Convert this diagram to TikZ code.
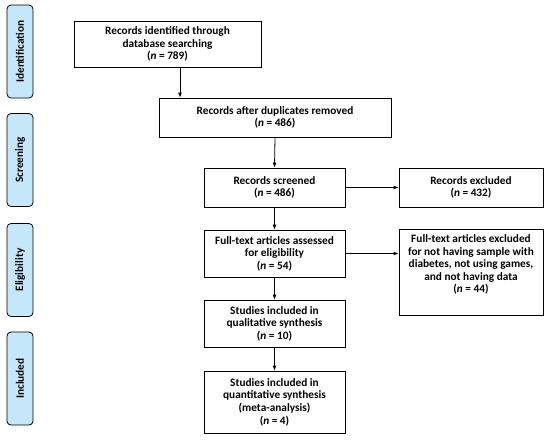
\documentclass[tikz,border=0pt]{standalone}
\usepackage{fontspec}
\setmainfont{Carlito}
\usetikzlibrary{arrows.meta}

\definecolor{phaseblue}{RGB}{197,231,250}

\begin{document}
\begin{tikzpicture}[x=1pt, y=-1pt,
    every node/.style={font=\fontsize{11.3}{12.6}\selectfont\bfseries},
    box/.style={draw, line width=0.8pt, inner sep=0pt, align=center},
    phase/.style={draw, line width=0.8pt, rounded corners=4pt, fill=phaseblue,
        minimum width=26pt, minimum height=93pt, inner sep=0pt,
        font=\fontsize{11.3}{13}\selectfont\bfseries},
    arr/.style={-{Latex[length=5pt, width=4pt]}, line width=0.8pt}]

    \useasboundingbox (0,0) rectangle (550,440);

    % Phase labels
    \node[phase] (ident) at (20,51.5) {\rotatebox{90}{Identification}};
    \node[phase] (screen) at (20,160) {\rotatebox{90}{Screening}};
    \node[phase] (elig) at (20,270) {\rotatebox{90}{Eligibility}};
    \node[phase] (incl) at (20,378.5) {\rotatebox{90}{Included}};

    % Records identified
    \node[box, minimum width=187pt, minimum height=46pt] (found) at (167.5,44)
        {Records identified through\\database searching\\(\textit{n} = 789)};

    % Duplicates removed
    \node[box, minimum width=232pt, minimum height=39pt] (dedup) at (275,117.5)
        {Records after duplicates removed\\(\textit{n} = 486)};

    % Screened
    \node[box, minimum width=141pt, minimum height=39pt] (screened) at (274.5,187.5)
        {Records screened\\(\textit{n} = 486)};

    % Excluded
    \node[box, minimum width=144pt, minimum height=39pt] (excluded) at (471,187.5)
        {Records excluded\\(\textit{n} = 432)};

    % Full-text
    \node[box, minimum width=141pt, minimum height=47pt] (fulltext) at (274.5,253.5)
        {Full-text articles assessed\\for eligibility\\(\textit{n} = 54)};

    % Full-text excluded
    \node[box, minimum width=144pt, minimum height=86pt] (ftexcl) at (471,272)
        {Full-text articles excluded\\for not having sample with\\diabetes, not using games,\\and not having data\\(\textit{n} = 44)\\\strut};

    % Qualitative
    \node[box, minimum width=141pt, minimum height=47pt] (quali) at (274.5,323.5)
        {Studies included in\\qualitative synthesis\\(\textit{n} = 10)};

    % Quantitative
    \node[box, minimum width=141pt, minimum height=62pt] (quanti) at (274.5,402)
        {Studies included in\\quantitative synthesis\\(meta-analysis)\\(\textit{n} = 4)};

    % Arrows
    \draw[arr] ([xshift=12.5pt]found.south) -- ([xshift=12.5pt]found.south |- dedup.north);
    \draw[arr] (dedup.south) -- (screened.north);
    \draw[arr] (screened.east) -- (excluded.west);
    \draw[arr] (screened.south) -- (fulltext.north);
    \draw[arr] (fulltext.east) -- (fulltext.east -| ftexcl.west);
    \draw[arr] (fulltext.south) -- (quali.north);
    \draw[arr] (quali.south) -- (quanti.north);

\end{tikzpicture}
\end{document}
